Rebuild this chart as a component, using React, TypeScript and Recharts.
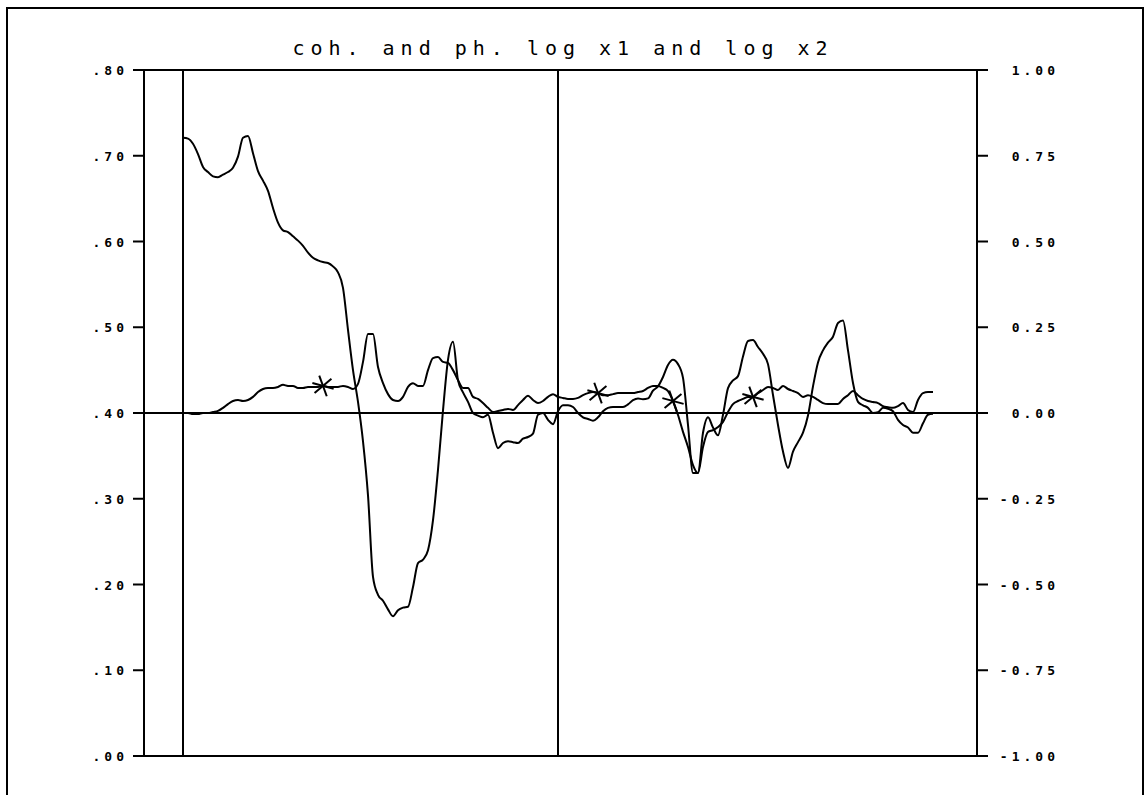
import { LineChart, Line, XAxis, YAxis, ReferenceLine } from "recharts"

// coherence (left axis), one value every step along the frequency axis
const coherence = [
  0.721, 0.72, 0.714, 0.702, 0.687, 0.681, 0.676, 0.675, 0.678, 0.681,
  0.686, 0.699, 0.721, 0.723, 0.703, 0.682, 0.671, 0.659, 0.639, 0.622,
  0.613, 0.611, 0.606, 0.601, 0.595, 0.587, 0.581, 0.578, 0.576, 0.575,
  0.571, 0.564, 0.546, 0.497, 0.45, 0.413, 0.367, 0.304, 0.209, 0.188,
  0.181, 0.171, 0.163, 0.17, 0.173, 0.174, 0.197, 0.225, 0.229, 0.24,
  0.275, 0.334, 0.403, 0.462, 0.483, 0.438, 0.424, 0.413, 0.4, 0.397,
  0.395, 0.398, 0.377, 0.359, 0.365, 0.367, 0.366, 0.365, 0.37, 0.372,
  0.376, 0.398, 0.4, 0.392, 0.387, 0.402, 0.409, 0.409, 0.407, 0.4,
  0.395, 0.393, 0.391, 0.395, 0.402, 0.406, 0.407, 0.407, 0.407, 0.41,
  0.415, 0.417, 0.416, 0.417, 0.426, 0.431, 0.442, 0.456, 0.462, 0.457,
  0.441, 0.386, 0.33, 0.33, 0.377, 0.395, 0.383, 0.374, 0.398, 0.429,
  0.438, 0.443, 0.466, 0.484, 0.485, 0.477, 0.469, 0.457, 0.421, 0.386,
  0.355, 0.336, 0.355, 0.366, 0.377, 0.397, 0.431, 0.459, 0.473, 0.482,
  0.489, 0.505, 0.508, 0.473, 0.435, 0.413, 0.409, 0.406, 0.4, 0.401,
  0.406, 0.405, 0.402, 0.392, 0.386, 0.383, 0.377, 0.377, 0.388, 0.398,
  0.399,
]

// phase (right axis)
const phase = [
  0, 0, -0.003, -0.003, 0, 0, 0.003, 0.006, 0.015, 0.026,
  0.035, 0.038, 0.035, 0.038, 0.047, 0.061, 0.07, 0.073, 0.073, 0.076,
  0.082, 0.079, 0.079, 0.073, 0.073, 0.076, 0.076, 0.076, 0.079, 0.076,
  0.076, 0.076, 0.079, 0.076, 0.07, 0.085, 0.149, 0.23, 0.23, 0.134,
  0.087, 0.055, 0.038, 0.035, 0.047, 0.076, 0.087, 0.079, 0.079, 0.125,
  0.16, 0.163, 0.149, 0.146, 0.125, 0.096, 0.073, 0.073, 0.047, 0.041,
  0.029, 0.015, 0.003, 0.006, 0.009, 0.012, 0.009, 0.023, 0.038, 0.05,
  0.038, 0.029, 0.035, 0.047, 0.055, 0.047, 0.044, 0.041, 0.041, 0.044,
  0.052, 0.058, 0.061, 0.058, 0.052, 0.052, 0.055, 0.058, 0.058, 0.058,
  0.058, 0.061, 0.064, 0.073, 0.079, 0.079, 0.073, 0.064, 0.035, -0.006,
  -0.055, -0.099, -0.152, -0.175, -0.099, -0.055, -0.05, -0.041, -0.026, 0.003,
  0.026, 0.035, 0.041, 0.047, 0.047, 0.058, 0.067, 0.076, 0.073, 0.067,
  0.079, 0.07, 0.064, 0.058, 0.047, 0.052, 0.047, 0.038, 0.029, 0.026,
  0.026, 0.026, 0.041, 0.052, 0.064, 0.052, 0.041, 0.035, 0.032, 0.029,
  0.02, 0.017, 0.015, 0.02, 0.029, 0.009, 0.003, 0.038, 0.058, 0.061,
  0.061,
]

// points on the phase curve that carry a star
const starIdx = [28, 83, 98, 114]

const leftTicks = [0, 0.1, 0.2, 0.3, 0.4, 0.5, 0.6, 0.7, 0.8]
const rightTicks = [-1, -0.75, -0.5, -0.25, 0, 0.25, 0.5, 0.75, 1]

const title = "coh. and ph. log x1 and log x2"

const data = coherence.map((c, i) => ({ i, coh: c, ph: phase[i] }))

const labelFont = {
  fontFamily: "'DejaVu Sans Mono', monospace",
  fontSize: 13,
  fontWeight: 700,
  letterSpacing: 4,
}

const LeftTick = ({ x, y, payload }: any) => (
  <text x={x} y={y} dy={5} textAnchor="end" fill="#000" style={labelFont}>
    {payload.value.toFixed(2).replace(/^0/, "")}
  </text>
)

const RightTick = ({ x, y, payload }: any) => (
  <text x={x + 61} y={y} dy={5} textAnchor="end" fill="#000" style={labelFont}>
    {payload.value.toFixed(2)}
  </text>
)

const Star = ({ cx, cy }: { cx: number; cy: number }) => {
  const arms = [70, 15, 140]
  return (
    <g>
      {arms.map((a) => {
        const r = (a * Math.PI) / 180
        const dx = Math.cos(r) * 11
        const dy = Math.sin(r) * 11
        return (
          <line key={a} x1={cx - dx} y1={cy - dy} x2={cx + dx} y2={cy + dy} stroke="#000" strokeWidth={2} />
        )
      })}
    </g>
  )
}

const renderDot = (props: any) => {
  if (!starIdx.includes(props.index)) return <g key={props.index} />
  return <Star key={props.index} cx={props.cx} cy={props.cy} />
}

export default function App() {
  return (
    <div style={{ position: "fixed", left: 0, top: 0, width: 1146, height: 795, overflow: "hidden", background: "#fff" }}>
      {/* outer frame */}
      <div
        style={{
          position: "absolute",
          left: 6,
          top: 7,
          width: 1138,
          height: 800,
          border: "2px solid #000",
          boxSizing: "border-box",
        }}
      />
      <svg width={1146} height={70} style={{ position: "absolute", left: 0, top: 0 }}>
        <text
          x={563}
          y={55}
          textAnchor="middle"
          fill="#000"
          style={{ fontFamily: "'DejaVu Sans Mono', monospace", fontSize: 20, letterSpacing: 6 }}
        >
          {title}
        </text>
      </svg>
      <div style={{ position: "absolute", left: 0, top: 0 }}>
        <LineChart width={1146} height={795} data={data} margin={{ top: 70, right: 0, bottom: 39, left: 0 }}>
          <XAxis dataKey="i" type="number" domain={[-7.8, 158.8]} hide />
          <YAxis
            yAxisId="left"
            domain={[0, 0.8]}
            ticks={leftTicks}
            width={144}
            tickSize={11}
            tickMargin={5}
            axisLine={{ stroke: "#000", strokeWidth: 2 }}
            tickLine={{ stroke: "#000", strokeWidth: 2 }}
            tick={<LeftTick />}
            interval={0}
          />
          <YAxis
            yAxisId="right"
            orientation="right"
            domain={[-1, 1]}
            ticks={rightTicks}
            width={169}
            tickSize={11}
            tickMargin={10}
            axisLine={{ stroke: "#000", strokeWidth: 2 }}
            tickLine={{ stroke: "#000", strokeWidth: 2 }}
            tick={<RightTick />}
            interval={0}
          />
          <ReferenceLine yAxisId="left" y={0.8} stroke="#000" strokeWidth={2} />
          <ReferenceLine yAxisId="left" y={0} stroke="#000" strokeWidth={2} />
          <ReferenceLine yAxisId="left" y={0.4} stroke="#000" strokeWidth={2} />
          <ReferenceLine yAxisId="left" x={0} stroke="#000" strokeWidth={2} />
          <ReferenceLine yAxisId="left" x={75} stroke="#000" strokeWidth={2} />
          <Line
            yAxisId="left"
            type="monotone"
            dataKey="coh"
            stroke="#000"
            strokeWidth={2}
            dot={false}
            isAnimationActive={false}
          />
          <Line
            yAxisId="right"
            type="monotone"
            dataKey="ph"
            stroke="#000"
            strokeWidth={2}
            dot={renderDot}
            isAnimationActive={false}
          />
        </LineChart>
      </div>
    </div>
  )
}
